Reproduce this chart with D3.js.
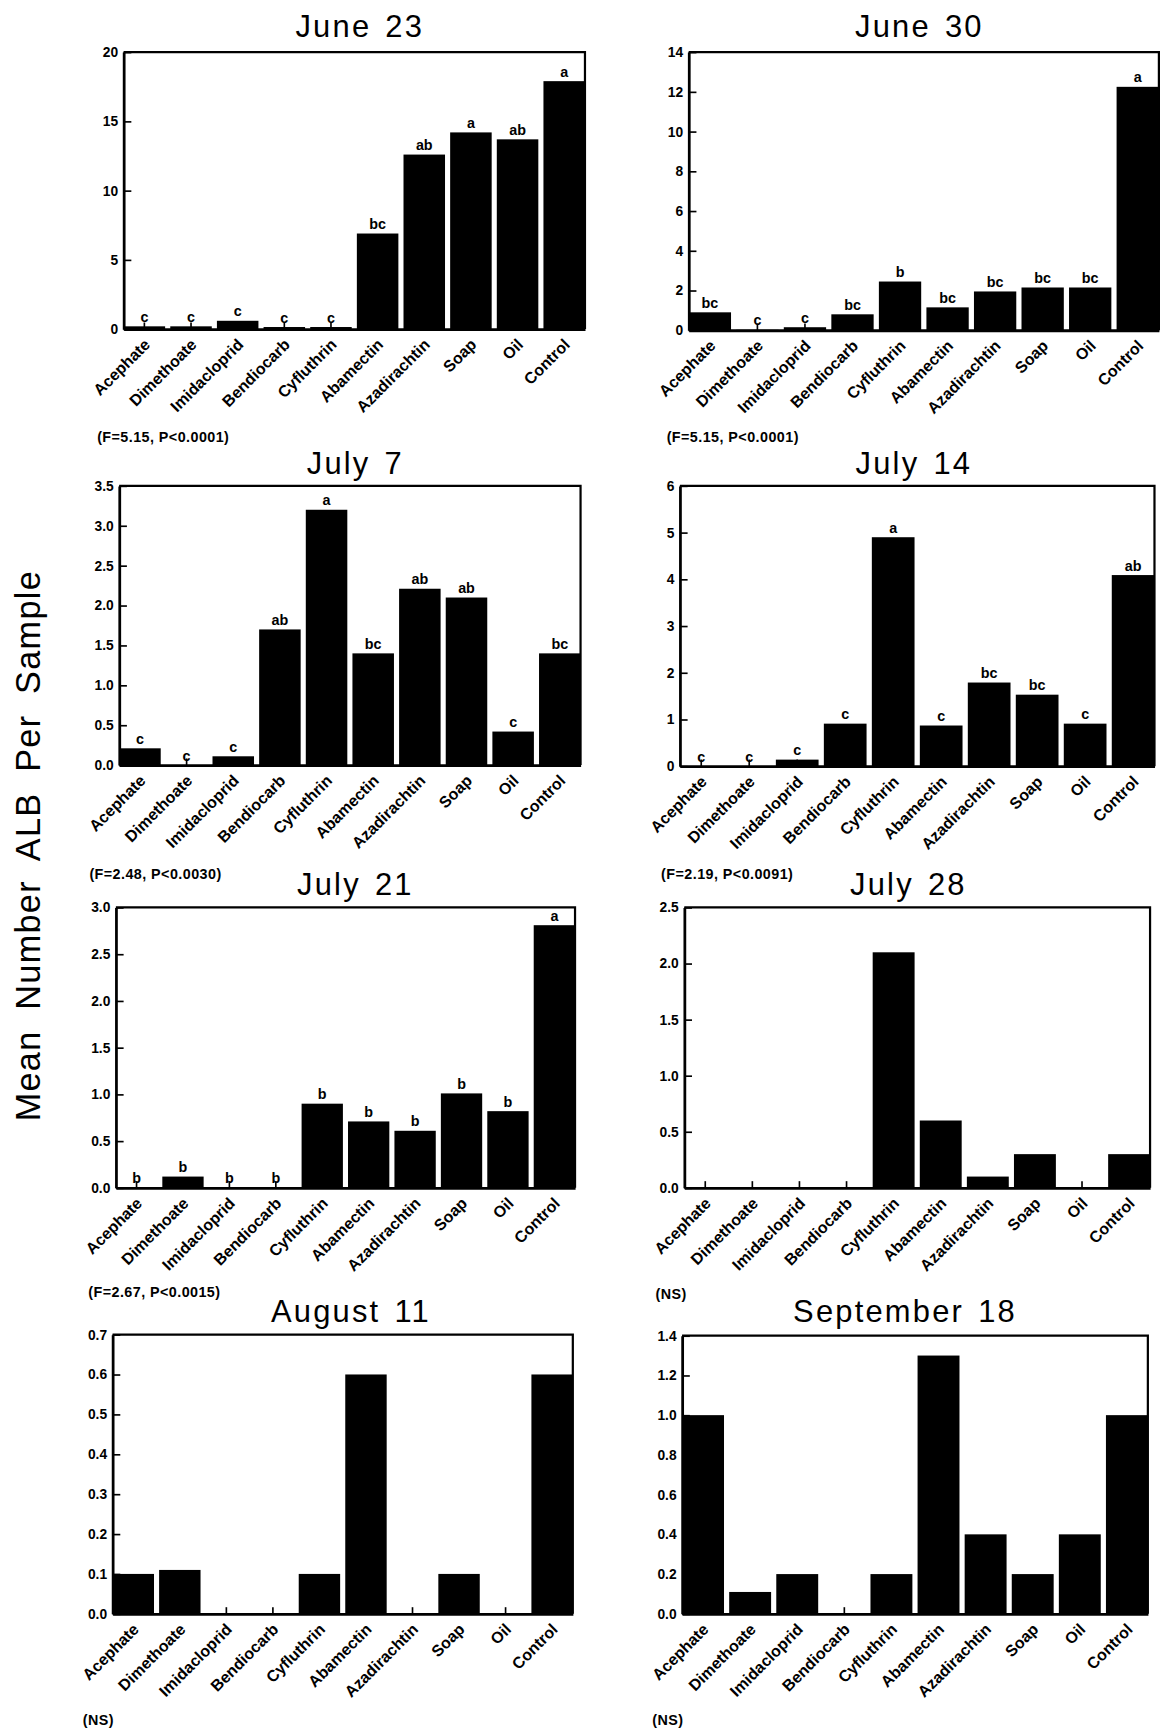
<!DOCTYPE html>
<html>
<head>
<meta charset="utf-8">
<script src="https://cdn.jsdelivr.net/npm/d3@7"></script>
<style>
  body { margin: 0; background: #fff; }
  text { font-family: "Liberation Sans", Arial, Helvetica, sans-serif; fill: #000; }
</style>
</head>
<body>
<svg id="chart" width="1160" height="1731" viewBox="0 0 1051 1568"></svg>
<script>
const treatments = ["Acephate", "Dimethoate", "Imidacloprid", "Bendiocarb", "Cyfluthrin",
                    "Abamectin", "Azadirachtin", "Soap", "Oil", "Control"];

const dates = ["June 23", "June 30", "July 7", "July 14", "July 21", "July 28", "August 11", "September 18"];

// mean number of ALB per sample, one value per treatment
const june23 = [0.2, 0.2, 0.6, 0.15, 0.15, 6.9, 12.6, 14.2, 13.7, 17.9];
const june30 = [0.9, 0.02, 0.15, 0.8, 2.45, 1.15, 1.95, 2.15, 2.15, 12.25];
const july7 = [0.21, 0, 0.11, 1.7, 3.2, 1.4, 2.21, 2.1, 0.42, 1.4];
const july14 = [0, 0, 0.14, 0.91, 4.9, 0.87, 1.79, 1.53, 0.91, 4.09];
const july21 = [0, 0.12, 0, 0, 0.9, 0.71, 0.61, 1.01, 0.82, 2.81];
const july28 = [0, 0, 0, 0, 2.1, 0.6, 0.1, 0.3, 0, 0.3];
const august11 = [0.1, 0.11, 0, 0, 0.1, 0.6, 0, 0.1, 0, 0.6];
const september18 = [1.0, 0.11, 0.2, 0, 0.2, 1.3, 0.4, 0.2, 0.4, 1.0];

// mean separation letters (none where NS)
const june23Groups = ["c", "c", "c", "c", "c", "bc", "ab", "a", "ab", "a"];
const june30Groups = ["bc", "c", "c", "bc", "b", "bc", "bc", "bc", "bc", "a"];
const july7Groups = ["c", "c", "c", "ab", "a", "bc", "ab", "ab", "c", "bc"];
const july14Groups = ["c", "c", "c", "c", "a", "c", "bc", "bc", "c", "ab"];
const july21Groups = ["b", "b", "b", "b", "b", "b", "b", "b", "b", "a"];

// y tick values
const june23Ticks = [0, 5, 10, 15, 20];
const june30Ticks = [0, 2, 4, 6, 8, 10, 12, 14];
const july7Ticks = [0, 0.5, 1, 1.5, 2, 2.5, 3, 3.5];
const july14Ticks = [0, 1, 2, 3, 4, 5, 6];
const july21Ticks = [0, 0.5, 1, 1.5, 2, 2.5, 3];
const july28Ticks = [0, 0.5, 1, 1.5, 2, 2.5];
const august11Ticks = [0, 0.1, 0.2, 0.3, 0.4, 0.5, 0.6, 0.7];
const september18Ticks = [0, 0.2, 0.4, 0.6, 0.8, 1, 1.2, 1.4];

const stats = ["(F=5.15, P<0.0001)", "(F=5.15, P<0.0001)", "(F=2.48, P<0.0030)", "(F=2.19, P<0.0091)",
               "(F=2.67, P<0.0015)", "(NS)", "(NS)", "(NS)"];

const series = [june23, june30, july7, july14, july21, july28, august11, september18];
const groupSets = [june23Groups, june30Groups, july7Groups, july14Groups, july21Groups, null, null, null];
const tickSets = [june23Ticks, june30Ticks, july7Ticks, july14Ticks, july21Ticks, july28Ticks, august11Ticks, september18Ticks];

// plot boxes and text anchors
const layout = [
  { L: 112, T: 47,   R: 530,  B: 298,  tx: 326, ty: 33,   sx: 88, sy: 400 },
  { L: 624, T: 47,   R: 1050, B: 299,  tx: 833, ty: 33,   sx: 604, sy: 400 },
  { L: 108, T: 440,  R: 526,  B: 693,  tx: 322, ty: 429,  sx: 81, sy: 796 },
  { L: 616, T: 440,  R: 1046, B: 694,  tx: 828, ty: 429,  sx: 599, sy: 796 },
  { L: 105, T: 822,  R: 521,  B: 1076, tx: 322, ty: 811,  sx: 80, sy: 1175 },
  { L: 620, T: 822,  R: 1042, B: 1076, tx: 823, ty: 811,  sx: 594, sy: 1177 },
  { L: 102, T: 1209, R: 519,  B: 1462, tx: 318, ty: 1198, sx: 75, sy: 1563 },
  { L: 618, T: 1210, R: 1040, B: 1462, tx: 820, ty: 1198, sx: 591, sy: 1563 }
];

const svg = d3.select("#chart");

dates.forEach((title, i) => {
  const { L, T, R, B, tx, ty, sx, sy } = layout[i];
  const values = series[i], groups = groupSets[i], ticks = tickSets[i];
  const g = svg.append("g");

  const x = d3.scaleBand().domain(treatments).range([L, R]).paddingInner(0.11).paddingOuter(0);
  const y = d3.scaleLinear().domain([0, d3.max(ticks)]).range([B, T]);
  const fmt = ticks.every(Number.isInteger) ? d3.format("d") : d3.format(".1f");

  g.selectAll("rect").data(values).join("rect")
    .attr("x", (v, j) => x(treatments[j]))
    .attr("width", x.bandwidth())
    .attr("y", v => y(v))
    .attr("height", v => B - y(v))
    .attr("fill", "#000");

  // top and right of the frame
  g.append("path")
    .attr("d", `M${L},${T}H${R}V${B}`)
    .attr("fill", "none").attr("stroke", "#000").attr("stroke-width", 2);

  const ya = g.append("g")
    .attr("transform", `translate(${L},0)`)
    .call(d3.axisLeft(y).tickValues(ticks).tickFormat(fmt).tickSizeInner(-7).tickSizeOuter(0).tickPadding(5));
  ya.select(".domain").attr("stroke-width", 2.5);
  ya.selectAll(".tick line").attr("stroke-width", 1.5);
  ya.selectAll("text").attr("font-size", 12.5).attr("font-weight", "bold")
    .attr("font-family", null);

  const xa = g.append("g")
    .attr("transform", `translate(0,${B})`)
    .call(d3.axisBottom(x).tickSizeInner(-6).tickSizeOuter(0));
  xa.select(".domain").attr("stroke-width", 2.5);
  xa.selectAll(".tick line").attr("stroke-width", 1.5);
  xa.selectAll("text")
    .attr("font-size", 14.5).attr("font-weight", "bold").attr("font-family", null)
    .attr("text-anchor", "end")
    .attr("x", 0).attr("y", 0).attr("dy", 0)
    .attr("transform", "translate(6,15) rotate(-45)");

  if (groups) {
    g.selectAll("text.grp").data(values).join("text")
      .attr("class", "grp")
      .attr("x", (v, j) => x(treatments[j]) + x.bandwidth() / 2)
      .attr("y", v => y(v) - 4)
      .attr("text-anchor", "middle")
      .attr("font-size", 13).attr("font-weight", "bold")
      .text((v, j) => groups[j]);
  }

  g.append("text")
    .attr("x", tx).attr("y", ty)
    .attr("text-anchor", "middle")
    .attr("font-size", 28).attr("letter-spacing", 2).attr("word-spacing", 3)
    .text(title);

  g.append("text")
    .attr("x", sx).attr("y", sy)
    .attr("font-size", 13).attr("font-weight", "bold").attr("letter-spacing", 0.4)
    .text(stats[i]);
});

svg.append("text")
  .attr("transform", "translate(36,766) rotate(-90)")
  .attr("text-anchor", "middle")
  .attr("font-size", 31).attr("letter-spacing", 1.2).attr("word-spacing", 9)
  .text("Mean Number ALB Per Sample");
</script>
</body>
</html>
